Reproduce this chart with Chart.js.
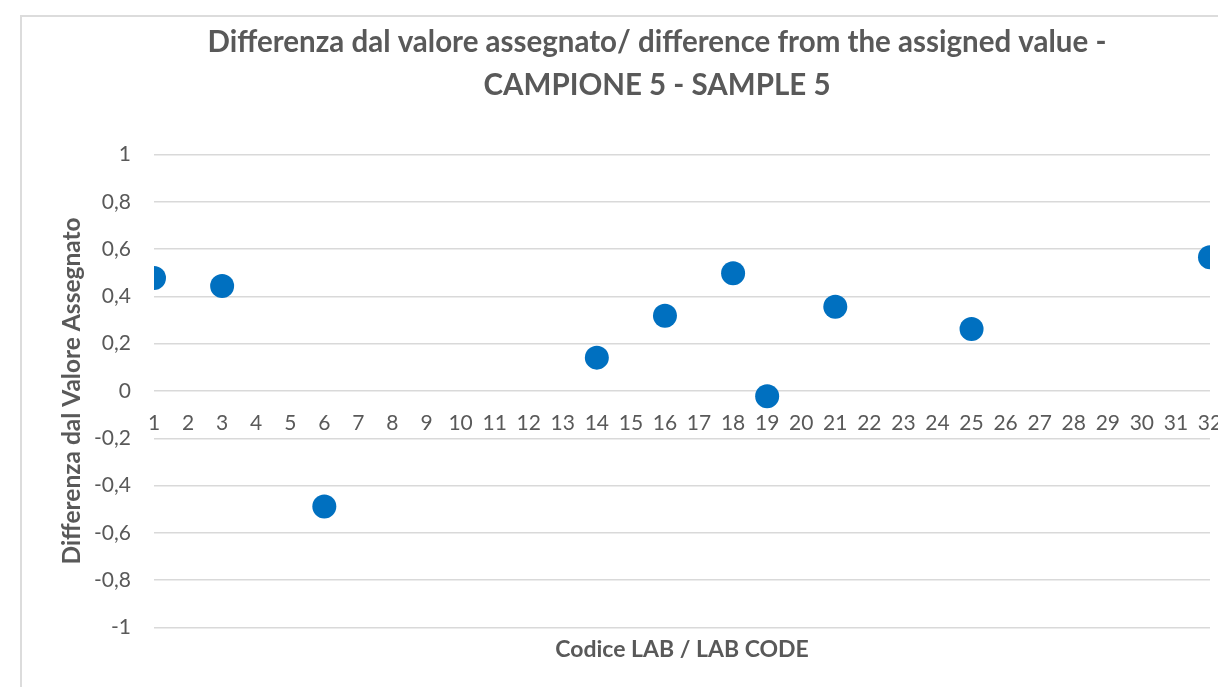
<!DOCTYPE html>
<html>
<head>
<meta charset="utf-8">
<script src="https://cdn.jsdelivr.net/npm/chart.js@4/dist/chart.umd.min.js"></script>
<style>
  html, body { margin: 0; padding: 0; background: #ffffff; overflow: hidden; width: 1218px; height: 687px; }
  #frame {
    position: absolute; left: 20px; top: 15px;
    border-left: 2px solid #dcdcdc; border-top: 2px solid #dcdcdc;
    width: 1270px; height: 672px;
  }
  #frame canvas { display: block; }
</style>
</head>
<body>
<div id="frame"><canvas id="chart" width="1270" height="670"></canvas></div>
<script>
// Laboratory codes and their difference from the assigned value (sample 5)
const labCodes = [1, 3, 6, 14, 16, 18, 19, 21, 25, 32];
const differences = [0.478, 0.444, -0.489, 0.141, 0.318, 0.498, -0.022, 0.356, 0.262, 0.566];

// Axis ranges and titles
const xMin = 1, xMax = 32;
const yMin = -1, yMax = 1, yStep = 0.2;
const chartTitle = ['Differenza dal valore assegnato/ difference from the assigned value -', 'CAMPIONE 5 - SAMPLE 5'];
const xTitle = 'Codice LAB / LAB CODE';
const yTitle = 'Differenza dal Valore Assegnato';

const textGrey = '#595959';
const gridGrey = '#d9d9d9';
const markerBlue = '#0070C0';
const family = 'Lato, "Open Sans", sans-serif';

const points = labCodes.map((code, i) => ({ x: code, y: differences[i] }));

function commaDecimal(v) {
  const r = Math.round(v * 10) / 10;
  return (Object.is(r, -0) ? 0 : r).toString().replace('.', ',');
}

new Chart(document.getElementById('chart'), {
  type: 'scatter',
  data: {
    datasets: [{
      data: points,
      xAxisID: 'x',
      yAxisID: 'y',
      pointRadius: 12,
      pointHoverRadius: 12,
      pointBackgroundColor: markerBlue,
      pointBorderColor: markerBlue,
      pointBorderWidth: 0
    }]
  },
  options: {
    responsive: false,
    animation: false,
    events: [],
    layout: { padding: { left: 0, right: 0, top: 0, bottom: 10 } },
    plugins: {
      legend: { display: false },
      tooltip: { enabled: false },
      title: {
        display: true,
        text: chartTitle,
        color: textGrey,
        font: { family: family, size: 29.5, weight: 'bold', lineHeight: 1.45 },
        padding: { top: 4, bottom: 48 }
      }
    },
    scales: {
      x: {
        type: 'linear',
        min: xMin,
        max: xMax,
        position: { y: 0 },
        grid: { display: false, drawTicks: false },
        border: { display: false },
        ticks: {
          stepSize: 1,
          autoSkip: false,
          maxRotation: 0,
          padding: 20,
          color: textGrey,
          font: { family: family, size: 21 },
          callback: v => String(v)
        }
      },
      y: {
        type: 'linear',
        min: yMin,
        max: yMax,
        position: 'left',
        grid: { color: gridGrey, lineWidth: 1.5, drawTicks: false },
        border: { display: false },
        ticks: {
          stepSize: yStep,
          padding: 23,
          color: textGrey,
          font: { family: family, size: 21 },
          callback: v => commaDecimal(v)
        },
        title: {
          display: true,
          text: yTitle,
          color: textGrey,
          font: { family: family, size: 24.5, weight: 'bold', lineHeight: 1.2 },
          padding: { top: 35, bottom: 0 }
        },
        afterFit: s => { s.width = 132; }
      },
      x2: {
        type: 'linear',
        min: xMin,
        max: xMax,
        position: 'bottom',
        grid: { display: false, drawTicks: false },
        border: { display: false },
        ticks: { display: false },
        title: {
          display: true,
          text: xTitle,
          color: textGrey,
          font: { family: family, size: 23, weight: 'bold', lineHeight: 1.2 },
          padding: { top: 8, bottom: 14 }
        }
      },
      yr: {
        type: 'linear',
        position: 'right',
        grid: { display: false, drawTicks: false },
        border: { display: false },
        ticks: { display: false },
        afterFit: s => { s.width = 82; }
      }
    }
  }
});
</script>
</body>
</html>
